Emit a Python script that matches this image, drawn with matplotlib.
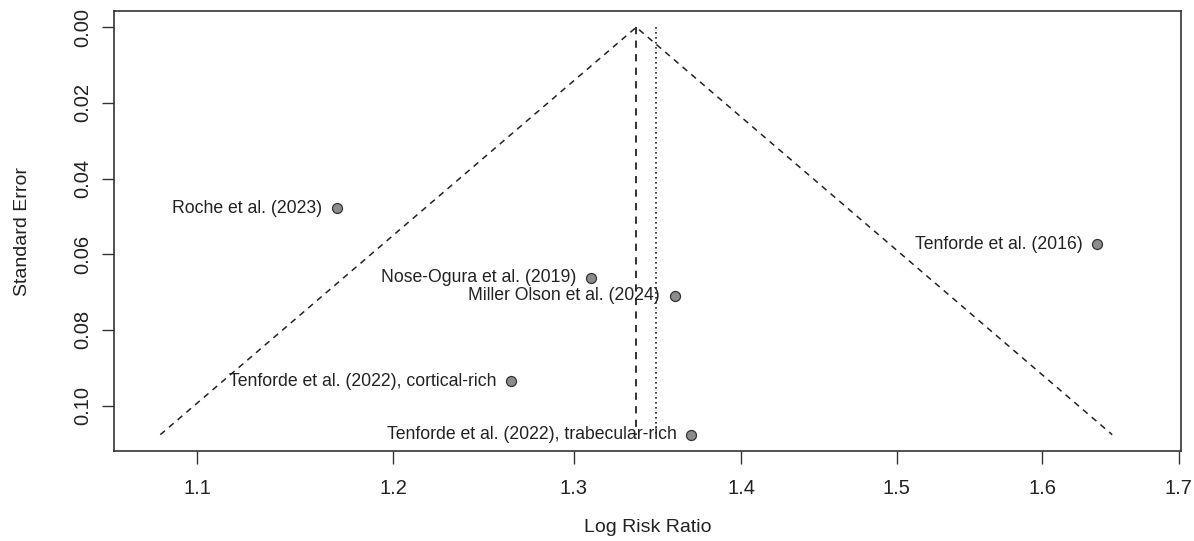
import numpy as np
import matplotlib
matplotlib.use("Agg")
import matplotlib.pyplot as plt

plt.rcParams['font.family'] = ['Liberation Sans', 'DejaVu Sans']

# Study estimates (log risk ratio) and standard errors
studies = ["Roche et al. (2023)", "Tenforde et al. (2016)", "Nose-Ogura et al. (2019)",
           "Miller Olson et al. (2024)", "Tenforde et al. (2022), cortical-rich",
           "Tenforde et al. (2022), trabecular-rich"]
log_rr = [0.1571, 0.4944, 0.2699, 0.3071, 0.2344, 0.3145]
se = [0.0478, 0.0573, 0.0662, 0.0710, 0.0936, 0.1077]

pooled_est = 0.2900      # dashed reference line / funnel apex
alt_est = 0.2986         # dotted line

xtick_labels = ["1.1", "1.2", "1.3", "1.4", "1.5", "1.6", "1.7"]
ytick_vals = [0.00, 0.02, 0.04, 0.06, 0.08, 0.10]

fig = plt.figure(figsize=(11.94, 5.41), dpi=100)
ax = fig.add_axes([0.0957, 0.1664, 0.9895 - 0.0957, 0.9797 - 0.1664])

se_max = max(se)
line_col = "#222222"
# funnel
ax.plot([pooled_est - 1.96 * se_max, pooled_est, pooled_est + 1.96 * se_max],
        [se_max, 0, se_max], linestyle=(0, (4, 3.5)), color=line_col, lw=1.1)
ax.plot([pooled_est, pooled_est], [0, se_max], linestyle=(0, (4, 3.5)), color=line_col, lw=1.3)
ax.plot([alt_est, alt_est], [0, se_max], linestyle=(0, (1, 2)), color=line_col, lw=1.2)

ax.plot(log_rr, se, linestyle="none", marker="o", markersize=7.2,
        markerfacecolor="#8c8c8c", markeredgecolor="#333333", markeredgewidth=0.9, zorder=5)

for name, x, y in zip(studies, log_rr, se):
    ax.annotate(name, (x, y), xytext=(-10.5, 0), textcoords="offset points",
                ha="right", va="center", fontsize=12.7, color="#222222")

pad = 0.04 * se_max
ax.set_ylim(se_max + pad, -pad)
ax.set_xlim(0.0585, 0.5318)

ax.set_xticks(np.log([float(t) for t in xtick_labels]))
ax.set_xticklabels(xtick_labels)
ax.set_yticks(ytick_vals)
ax.set_yticklabels([f"{v:.2f}" for v in ytick_vals], rotation=90, va="center")

ax.tick_params(axis="both", length=9, width=1, color="#333333", labelsize=14.5,
               labelcolor="#222222")
ax.tick_params(axis="x", pad=11)
ax.tick_params(axis="y", pad=7)
for s in ax.spines.values():
    s.set_color("#333333")
    s.set_linewidth(1.2)

fig.text(648 / 1194, 1 - 528 / 541, "Log Risk Ratio", fontsize=14, color="#222222",
         ha="center", va="center")
fig.text(23 / 1194, 1 - 231 / 541, "Standard Error", fontsize=14, color="#222222",
         ha="center", va="center", rotation=90)

fig.savefig("out.png", dpi=100, facecolor="white")
